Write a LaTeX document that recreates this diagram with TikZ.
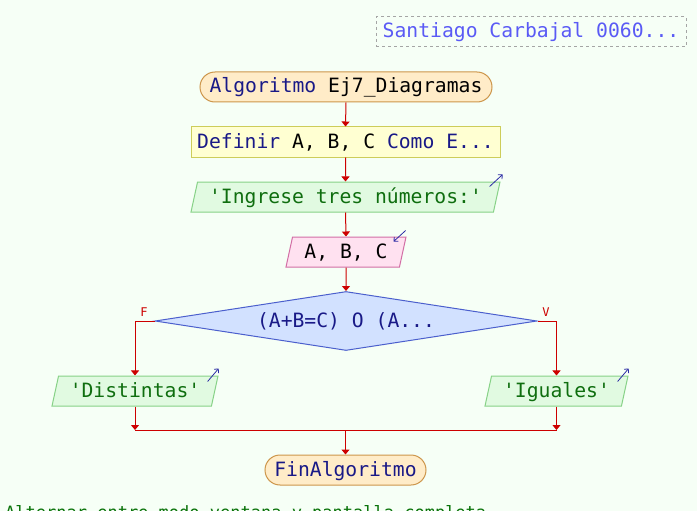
\documentclass[tikz,border=0pt]{standalone}
\usepackage{fontspec}
\setmainfont{DejaVu Sans Mono}
\usetikzlibrary{shapes.geometric,arrows.meta}
\definecolor{bg}{RGB}{246,255,246}
\definecolor{navy}{RGB}{25,25,135}
\definecolor{titleblue}{RGB}{90,90,245}
\definecolor{framegray}{RGB}{165,165,165}
\definecolor{termfill}{RGB}{255,236,200}
\definecolor{termline}{RGB}{205,150,75}
\definecolor{procfill}{RGB}{255,255,210}
\definecolor{procline}{RGB}{205,205,90}
\definecolor{outfill}{RGB}{225,250,225}
\definecolor{outline}{RGB}{135,210,135}
\definecolor{outtext}{RGB}{15,110,15}
\definecolor{infill}{RGB}{255,225,240}
\definecolor{inline}{RGB}{210,110,165}
\definecolor{decfill}{RGB}{210,225,255}
\definecolor{decline}{RGB}{75,95,205}
\definecolor{flowred}{RGB}{205,0,0}
\definecolor{iconblue}{RGB}{45,45,165}
\definecolor{notegreen}{RGB}{10,115,10}
\newcommand{\q}{\textquotesingle}
\begin{document}
\begin{tikzpicture}[x=1pt,y=-1pt,
  every node/.style={font=\fontsize{19.7}{23}\selectfont, text height=15pt, text depth=3pt, inner sep=0pt},
  terminal/.style={draw=termline, fill=termfill, line width=1pt, rounded corners=15pt, minimum height=30pt},
  procbox/.style={draw=procline, fill=procfill, line width=1pt, minimum height=30pt},
  parallel/.style={trapezium, trapezium left angle=70, trapezium right angle=110,
    trapezium stretches body, line width=1pt, minimum height=30pt},
  outbox/.style={parallel, draw=outline, fill=outfill, text=outtext},
  inbox/.style={parallel, draw=inline, fill=infill},
  decision/.style={diamond, draw=decline, fill=decfill, line width=1pt, aspect=6.5,
    minimum width=382pt, minimum height=59pt, text=navy},
  flowline/.style={draw=flowred, line width=1pt},
  flow/.style={flowline, -{Triangle[width=8pt,length=5pt]}},
  iconarrow/.style={draw=iconblue, line width=0.8pt, -{Straight Barb[length=3pt,width=6pt]}},
  branchlabel/.style={font=\fontsize{12}{14}\selectfont, text=flowred, text height=9pt, text depth=0pt}]

\path[fill=bg] (0,0) rectangle (697,511);
\useasboundingbox (0,0) rectangle (697,511);
\clip (0,0) rectangle (697,511);

% author box
\node[draw=framegray, dash pattern=on 3pt off 3pt, line width=1pt, minimum width=310pt,
  minimum height=30pt, text=titleblue] (author) at (531,32) {Santiago Carbajal 0060...};

% main flow
\node[terminal, minimum width=292pt] (start) at (346,87)
  {{\color{navy}Algoritmo} Ej7\_Diagramas};
\node[procbox, minimum width=309pt] (def) at (345.5,142)
  {{\color{navy}Definir} A, B, C {\color{navy}Como E...}};
\node[outbox, minimum width=309pt] (out) at (345.5,197) {\q Ingrese tres números:\q};
\node[inbox, minimum width=120pt] (in) at (346,252) {A, B, C};
\node[decision] (dec) at (346,321) {(A+B=C) O (A...};
\node[outbox, minimum width=166pt] (dist) at (135,391) {\q Distintas\q};
\node[outbox, minimum width=143pt] (ig) at (556.5,391) {\q Iguales\q};
\node[terminal, minimum width=161pt, text=navy] (fin) at (345.5,470) {FinAlgoritmo};
\coordinate (mrg) at (345.5,430);

% input / output markers
\draw[iconarrow] ([shift={(-11,5)}]out.top right corner) -- ([shift={(2,-7)}]out.top right corner);
\draw[iconarrow] ([shift={(-1,-6)}]in.top right corner) -- ([shift={(-13,5)}]in.top right corner);
\draw[iconarrow] ([shift={(-11,6)}]dist.top right corner) -- ([shift={(0,-7)}]dist.top right corner);
\draw[iconarrow] ([shift={(-11,6)}]ig.top right corner) -- ([shift={(0,-7)}]ig.top right corner);

% connectors
\draw[flow] (start.south) -- (def.north);
\draw[flow] (def.south) -- (out.north);
\draw[flow] (out.south) -- (in.north);
\draw[flow] (in.south) -- (dec.north);
\draw[flow] (dec.west) -| (dist.north);
\draw[flow] (dec.east) -| (ig.north);
\node[branchlabel] (flab) at (144,312) {F};
\node[branchlabel] (vlab) at (546,312) {V};
\draw[flow] (dist.south) -- (dist.south |- mrg);
\draw[flow] (ig.south) -- (ig.south |- mrg);
\draw[flowline] (dist.south |- mrg) -- (ig.south |- mrg);
\draw[flow] (mrg) -- (fin.north);

% status line
\node[anchor=base west, font=\fontsize{17}{20}\selectfont, text=notegreen] (note) at (5,518)
  {Alternar entre modo ventana y pantalla completa};
\end{tikzpicture}
\end{document}
